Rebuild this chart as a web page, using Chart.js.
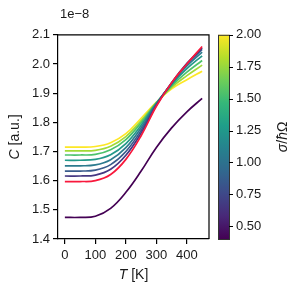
<!DOCTYPE html>
<html>
<head>
<meta charset="utf-8">
<script src="https://cdn.jsdelivr.net/npm/chart.js@4"></script>
<style>
  html, body { margin: 0; padding: 0; background: #fff; }
  #wrap { width: 295px; height: 291px; }
</style>
</head>
<body>
<div id="wrap"><canvas id="chart" width="295" height="291"></canvas></div>
<script>
// temperatures (K)
const temps = [0, 50, 100, 150, 200, 250, 300, 350, 400, 450];

// C in units of 1e-8, one list per curve
const sigma04 = [1.474, 1.474, 1.478, 1.505, 1.560, 1.633, 1.714, 1.781, 1.836, 1.882];
const sigma08 = [1.616, 1.616, 1.619, 1.639, 1.687, 1.763, 1.858, 1.936, 2.002, 2.055];
const sigma10 = [1.633, 1.633, 1.636, 1.655, 1.700, 1.772, 1.861, 1.935, 1.999, 2.050];
const sigma12 = [1.651, 1.651, 1.654, 1.672, 1.713, 1.781, 1.863, 1.933, 1.993, 2.041];
const sigma14 = [1.670, 1.670, 1.673, 1.689, 1.727, 1.790, 1.865, 1.930, 1.984, 2.028];
const sigma16 = [1.688, 1.688, 1.690, 1.706, 1.741, 1.799, 1.867, 1.925, 1.972, 2.012];
const sigma18 = [1.702, 1.702, 1.704, 1.718, 1.751, 1.806, 1.868, 1.920, 1.960, 1.996];
const sigma20 = [1.715, 1.715, 1.717, 1.730, 1.761, 1.814, 1.869, 1.915, 1.946, 1.975];
const reference = [1.597, 1.597, 1.600, 1.621, 1.673, 1.754, 1.855, 1.936, 2.000, 2.060];

const yTicks = [1.4, 1.5, 1.6, 1.7, 1.8, 1.9, 2.0, 2.1];
const xTicks = [0, 100, 200, 300, 400];
const cbTicks = [0.5, 0.75, 1.0, 1.25, 1.5, 1.75, 2.0];

const viridis = ['#440154', '#482878', '#3e4989', '#31688e', '#26828e', '#1f9e89',
                 '#35b779', '#6ece58', '#b5de2b', '#fde725'];

const FONT = '"Liberation Sans", Arial, sans-serif';
const TXT = '#1a1a1a';

function pts(arr) {
    return temps.map((t, i) => ({x: t, y: arr[i]}));
}

function line(arr, color, order) {
    return {
        data: pts(arr),
        borderColor: color,
        borderWidth: 1.7,
        pointRadius: 0,
        fill: false,
        tension: 0.4,
        order: order
    };
}

// draws text pieces [text, italic] one after the other
function drawPieces(ctx, pieces, size) {
    let total = 0;
    pieces.forEach(p => {
        ctx.font = (p[1] ? 'italic ' : '') + size + 'px ' + FONT;
        total += ctx.measureText(p[0]).width;
    });
    let x = -total / 2;
    pieces.forEach(p => {
        ctx.font = (p[1] ? 'italic ' : '') + size + 'px ' + FONT;
        ctx.fillText(p[0], x, 0);
        x += ctx.measureText(p[0]).width;
    });
}

const extras = {
    id: 'extras',
    afterDraw(chart) {
        const ctx = chart.ctx;
        const a = chart.chartArea;
        const cb = chart.scales.cb;
        ctx.save();
        // top and right spines
        ctx.strokeStyle = '#000';
        ctx.lineWidth = 1.2;
        ctx.beginPath();
        ctx.moveTo(a.left, a.top);
        ctx.lineTo(a.right, a.top);
        ctx.lineTo(a.right, a.bottom);
        ctx.stroke();

        // colour bar
        const bx = 218, bw = 11;
        const g = ctx.createLinearGradient(0, a.bottom, 0, a.top);
        viridis.forEach((c, i) => g.addColorStop(i / (viridis.length - 1), c));
        ctx.fillStyle = g;
        ctx.fillRect(bx, a.top, bw, a.bottom - a.top);
        ctx.strokeStyle = '#333';
        ctx.lineWidth = 1;
        ctx.strokeRect(bx + 0.5, a.top + 0.5, bw, a.bottom - a.top);
        ctx.strokeStyle = '#000';
        cbTicks.forEach(v => {
            const y = Math.round(cb.getPixelForValue(v)) + 0.5;
            ctx.beginPath();
            ctx.moveTo(bx + bw, y);
            ctx.lineTo(bx + bw + 4, y);
            ctx.stroke();
        });

        ctx.fillStyle = TXT;
        ctx.textBaseline = 'alphabetic';
        ctx.textAlign = 'left';
        ctx.font = '13px ' + FONT;
        ctx.fillText('1e\u22128', 60, 18);

        // axis titles
        ctx.save();
        ctx.translate((a.left + a.right) / 2, 279);
        drawPieces(ctx, [['T', true], [' [K]', false]], 14);
        ctx.restore();

        ctx.save();
        ctx.translate(19, (a.top + a.bottom) / 2);
        ctx.rotate(-Math.PI / 2);
        drawPieces(ctx, [['C', true], [' [a.u.]', false]], 14);
        ctx.restore();

        ctx.save();
        ctx.translate(287, (a.top + a.bottom) / 2);
        ctx.rotate(-Math.PI / 2);
        drawPieces(ctx, [['\u03c3', true], ['/', false], ['\u0127', true], ['\u03a9', false]], 14);
        ctx.restore();

        ctx.restore();
    }
};

const tickFont = {family: FONT, size: 13};

new Chart(document.getElementById('chart'), {
    type: 'line',
    data: {
        datasets: [
            line(reference, '#f8183c', 0),
            line(sigma08, '#463882', 1),
            line(sigma10, '#3a5c8c', 2),
            line(sigma12, '#2d7b8e', 3),
            line(sigma14, '#23998a', 4),
            line(sigma16, '#4cc26c', 5),
            line(sigma18, '#a3da37', 6),
            line(sigma20, '#fde725', 7),
            line(sigma04, '#440154', 8)
        ]
    },
    options: {
        responsive: false,
        animation: false,
        devicePixelRatio: 1,
        layout: {padding: {top: 21, left: 0, right: 0, bottom: 0}},
        plugins: {legend: {display: false}, tooltip: {enabled: false}},
        scales: {
            x: {
                type: 'linear',
                min: -22.5,
                max: 472.5,
                afterBuildTicks: s => { s.ticks = xTicks.map(v => ({value: v})); },
                afterFit: s => { s.height = 52; },
                grid: {drawOnChartArea: false, drawTicks: true, tickLength: 5, color: '#000', lineWidth: 1.2},
                border: {display: true, color: '#000', width: 1.2},
                ticks: {font: tickFont, color: TXT, padding: 4, maxRotation: 0}
            },
            y: {
                position: 'left',
                min: 1.4,
                max: 2.1,
                afterBuildTicks: s => { s.ticks = yTicks.map(v => ({value: v})); },
                afterFit: s => { s.width = 58; },
                grid: {drawOnChartArea: false, drawTicks: true, tickLength: 5, color: '#000', lineWidth: 1.2},
                border: {display: true, color: '#000', width: 1.2},
                ticks: {font: tickFont, color: TXT, padding: 3, callback: v => v.toFixed(1)}
            },
            cb: {
                position: 'right',
                min: 0.4,
                max: 2.0,
                afterBuildTicks: s => { s.ticks = cbTicks.map(v => ({value: v})); },
                afterFit: s => { s.width = 86; },
                grid: {display: false, drawTicks: false},
                border: {display: false},
                ticks: {font: tickFont, color: TXT, padding: 27, callback: v => v.toFixed(2)}
            }
        }
    },
    plugins: [extras]
});
</script>
</body>
</html>
